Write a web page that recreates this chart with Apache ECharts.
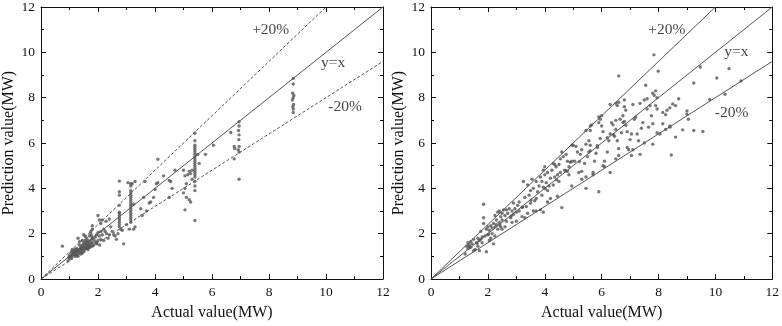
<!DOCTYPE html>
<html>
<head>
<meta charset="utf-8">
<script src="https://cdn.jsdelivr.net/npm/echarts@6/dist/echarts.min.js"></script>
<style>
  html, body { margin: 0; padding: 0; background: #fff; }
  #main { width: 782px; height: 326px; }
</style>
</head>
<body>
<div id="main"></div>
<script>
// axis ticks
var axisMin = 0, axisMax = 12, axisStep = 2;

// reference lines: y=x, +20%, -20%
var lineYX = [[0, 0], [12, 12]];
var linePlus20 = [[0, 0], [10, 12]];
var lineMinus20 = [[0, 0], [12, 9.6]];

// annotation labels [x, y, text]
var notesLeft = [[8.06, 11.0, '+20%'], [10.25, 9.52, 'y=x'], [10.67, 7.6, '-20%']];
var notesRight = [[8.29, 11.0, '+20%'], [10.74, 10.0, 'y=x'], [10.57, 7.34, '-20%']];

// left panel: actual vs prediction
var pointsLeft = [
  [8.85, 8.85], [8.85, 8.6], [8.83, 8.2], [8.87, 8.1], [8.85, 8.0], [8.82, 7.9], [8.86, 7.7], [8.84, 7.6], [8.85, 7.5], [8.85, 7.35],
  [6.95, 6.94], [6.95, 6.75], [6.93, 6.55], [6.95, 6.36], [6.94, 6.15], [6.95, 5.85], [6.92, 5.7], [6.95, 5.6], [6.95, 4.4],
  [6.78, 5.85], [6.8, 5.75], [6.66, 6.46], [6.78, 5.3], [6.05, 5.9], [5.77, 5.5],
  [5.4, 6.43], [5.4, 6.1], [5.4, 5.9], [5.4, 5.8], [5.4, 5.7], [5.4, 5.6], [5.4, 5.5], [5.4, 5.4], [5.4, 5.3], [5.4, 5.2],
  [5.4, 5.1], [5.4, 5.0], [5.4, 4.9], [5.4, 4.8], [5.4, 4.7], [5.4, 4.6], [5.4, 4.5], [5.4, 4.3], [5.4, 4.1], [5.4, 3.9], [5.4, 2.58],
  [5.0, 4.8], [5.05, 4.55], [5.1, 4.2], [5.05, 4.0], [5.0, 3.8], [5.15, 4.6], [5.2, 4.75], [5.25, 4.65], [5.3, 4.8], [5.3, 4.4],
  [5.2, 3.5], [5.25, 3.4], [5.05, 3.05], [5.1, 3.6], [5.55, 5.1], [5.5, 5.5],
  [4.1, 5.28], [4.0, 3.95], [4.05, 4.2], [4.1, 4.25], [3.95, 3.6], [4.3, 4.55], [4.5, 4.35], [4.55, 4.3], [4.6, 4.0], [4.5, 3.6], [4.7, 4.8],
  [3.65, 4.3], [3.6, 3.6], [3.7, 3.0], [3.5, 3.1], [3.55, 2.8], [3.8, 3.35], [3.85, 3.4], [3.3, 4.3], [3.25, 3.3],
  [3.15, 4.2], [3.15, 4.1], [3.15, 3.9], [3.15, 3.8], [3.15, 3.7], [3.15, 3.6], [3.15, 3.5], [3.15, 3.4], [3.15, 3.3], [3.15, 3.2],
  [3.15, 3.1], [3.15, 3.0], [3.15, 2.9], [3.15, 2.8], [3.15, 2.7], [3.15, 2.6], [3.15, 2.5], [3.05, 4.25], [3.2, 4.2],
  [3.0, 2.4], [3.1, 2.2], [3.25, 2.2], [3.3, 2.3],
  [2.75, 4.32], [2.75, 3.85], [2.75, 3.7], [2.75, 3.25], [2.75, 2.95], [2.75, 2.9], [2.75, 2.8], [2.75, 2.7], [2.75, 2.6], [2.75, 2.5],
  [2.75, 2.4], [2.75, 2.3], [2.8, 2.2], [2.85, 2.15], [2.9, 1.55],
  [2.0, 2.8], [2.05, 2.6], [2.1, 2.45], [2.2, 2.2], [2.3, 2.0], [2.25, 2.1], [2.4, 2.65], [2.45, 2.3], [2.5, 2.1], [2.55, 1.95],
  [2.6, 1.9], [2.35, 1.8], [2.4, 1.95], [2.65, 1.75], [2.7, 2.0], [2.2, 1.7], [2.15, 1.95], [2.1, 2.1], [2.0, 2.05], [2.05, 1.9],
  [2.0, 1.7], [1.95, 1.6], [2.05, 1.5], [2.1, 1.75],
  [1.8, 2.35], [1.8, 2.2], [1.75, 2.1], [1.75, 2.0], [1.78, 1.9], [1.8, 1.8], [1.75, 1.7], [1.8, 1.6], [1.75, 1.55], [1.8, 1.45], [1.85, 1.5],
  [1.5, 1.95], [1.55, 1.9], [1.6, 1.65], [1.6, 1.5], [1.65, 1.4], [1.55, 1.55], [1.5, 1.45], [1.45, 1.35], [1.7, 1.45], [1.65, 1.3],
  [1.5, 1.2], [1.4, 1.25], [1.35, 1.5], [1.3, 1.8], [1.35, 1.65], [1.3, 1.2], [1.25, 1.35], [1.2, 1.15], [1.15, 1.25], [1.1, 1.2],
  [1.1, 1.05], [1.05, 1.0], [1.0, 0.9], [0.95, 0.8], [1.2, 1.0], [1.25, 1.05], [1.3, 1.0], [1.4, 1.1], [1.45, 1.15], [1.2, 1.3],
  [1.15, 1.1], [1.05, 1.15], [0.75, 1.45], [1.0, 1.05], [1.1, 1.3], [1.4, 1.4], [1.5, 1.6], [1.6, 1.8], [1.65, 1.7], [1.7, 1.9],
  [1.9, 1.85], [1.9, 1.65], [1.95, 1.55], [1.85, 1.75], [1.55, 1.35], [1.35, 1.3], [1.25, 1.2], [1.45, 1.5], [1.7, 1.6], [1.6, 1.35],
  [1.12, 1.1], [1.18, 1.22], [1.28, 1.28], [1.32, 1.12], [1.38, 1.2], [1.42, 1.3], [1.48, 1.38], [1.52, 1.3], [1.58, 1.45], [1.62, 1.55],
  [1.68, 1.5], [1.72, 1.4], [1.22, 1.08], [1.08, 0.95], [0.98, 0.95], [1.45, 1.7], [1.55, 1.7], [2.28, 2.55], [2.15, 2.6], [1.95, 1.95]
];

// right panel: actual vs prediction
var pointsRight = [
  [7.84, 9.89], [6.6, 8.96], [7.99, 9.17], [9.47, 9.35], [10.48, 9.28], [10.05, 8.87], [9.24, 8.65], [10.9, 8.74], [10.34, 8.15], [9.8, 7.92],
  [9.0, 7.41], [9.0, 7.27], [9.05, 7.05], [9.24, 6.55], [9.56, 6.51], [8.45, 5.47], [8.6, 6.26], [8.85, 6.58], [8.71, 7.95], [8.5, 7.72],
  [8.6, 7.65], [8.4, 7.55], [8.25, 7.25], [8.3, 7.45], [8.15, 7.35], [8.4, 6.7], [8.25, 6.6], [8.05, 6.4], [7.9, 7.65], [7.95, 8.0],
  [7.8, 8.2], [7.85, 8.1], [7.7, 7.65], [7.6, 7.5], [7.75, 7.2], [7.8, 6.85], [7.65, 6.7], [7.8, 5.95], [7.55, 8.55], [7.5, 7.9],
  [7.35, 7.75], [7.45, 6.9], [7.4, 6.65], [7.35, 5.5], [7.25, 6.4], [7.3, 6.1], [7.1, 7.7], [7.15, 7.05], [7.05, 6.4], [7.0, 6.15],
  [7.05, 5.45], [6.95, 5.7], [6.9, 5.8], [6.8, 7.9], [6.8, 7.6], [6.85, 7.45], [6.75, 7.2], [6.8, 6.95], [6.9, 6.5], [6.7, 6.45],
  [6.75, 6.9], [6.65, 7.05], [6.6, 7.8], [6.55, 7.65], [6.5, 7.0], [6.5, 6.6], [6.45, 6.3], [6.55, 6.1], [6.6, 5.75], [6.6, 5.45],
  [6.3, 7.7], [6.35, 6.9], [6.4, 6.8], [6.3, 6.4], [6.25, 6.1], [6.2, 5.6], [6.3, 4.7], [6.1, 5.2], [6.05, 5.0], [6.0, 7.2],
  [5.95, 7.05], [6.0, 6.75], [5.9, 6.9], [6.05, 6.5], [5.95, 6.2], [5.85, 5.8], [5.9, 3.85], [5.8, 5.55], [5.75, 5.2], [5.7, 4.7],
  [5.65, 6.8], [5.6, 6.55], [5.55, 6.1], [5.6, 5.9], [5.55, 5.6], [5.5, 5.4], [5.45, 6.55], [5.45, 5.95], [5.4, 5.1], [5.45, 4.5],
  [5.45, 4.0], [5.3, 5.7], [5.25, 5.5], [5.3, 4.75], [5.2, 4.7], [5.15, 5.6], [5.1, 5.85], [5.05, 5.2], [4.95, 5.9], [4.95, 5.2],
  [4.9, 5.15], [4.85, 4.95], [4.8, 5.2], [4.85, 4.6], [4.8, 4.75], [4.75, 5.5], [4.7, 4.8], [4.65, 5.4], [4.6, 5.6], [4.6, 3.15],
  [4.55, 5.3], [4.55, 4.7], [4.5, 5.05], [4.5, 4.3], [4.45, 4.6], [4.4, 4.95], [4.35, 5.05], [4.35, 4.5], [4.3, 4.15], [4.25, 4.8],
  [4.2, 4.45], [4.2, 3.55], [4.15, 4.1], [4.1, 4.7], [4.1, 3.9], [4.05, 4.25], [4.0, 4.95], [4.0, 4.6], [3.95, 4.8], [3.9, 4.3],
  [3.95, 4.05], [3.9, 3.7], [3.95, 2.95], [3.85, 3.05], [3.85, 4.5], [3.8, 4.1], [3.75, 3.85], [3.7, 4.3], [3.7, 3.55], [3.65, 3.45],
  [3.6, 4.0], [3.6, 3.0], [3.55, 4.4], [3.5, 3.9], [3.5, 3.35], [3.45, 3.7], [3.4, 4.15], [3.4, 2.9], [3.35, 3.2], [3.3, 3.6],
  [3.25, 4.3], [3.2, 3.15], [3.2, 2.75], [3.1, 3.4], [3.1, 3.0], [3.05, 3.25], [3.0, 2.95], [2.95, 3.1], [2.9, 3.35], [2.9, 2.85],
  [2.85, 3.0], [2.8, 2.7], [2.75, 3.1], [2.7, 2.9], [2.65, 3.05], [2.65, 2.55], [2.6, 2.8], [2.55, 3.05], [2.5, 2.9], [2.5, 2.6],
  [2.45, 2.75], [2.45, 2.3], [2.4, 3.0], [2.4, 2.5], [2.35, 2.95], [2.35, 2.2], [2.3, 2.6], [2.3, 2.4], [2.25, 2.8], [2.25, 2.3],
  [2.2, 2.45], [2.2, 1.55], [2.15, 2.25], [2.15, 2.0], [2.1, 2.35], [2.05, 2.15], [2.05, 1.7], [2.0, 2.3], [2.0, 1.95], [1.95, 2.2],
  [1.95, 1.2], [1.9, 1.9], [1.85, 3.3], [1.85, 2.7], [1.85, 2.45], [1.8, 1.85], [1.8, 1.6], [1.75, 2.1], [1.75, 1.75], [1.7, 1.7],
  [1.65, 1.8], [1.65, 1.45], [1.6, 1.6], [1.55, 1.3], [1.5, 1.75], [1.45, 1.55], [1.4, 1.65], [1.4, 1.4], [1.35, 1.5], [1.3, 1.6],
  [1.3, 1.35], [1.25, 1.45], [1.2, 1.1], [1.35, 1.45], [1.5, 1.25], [1.7, 1.25], [2.1, 1.8], [2.25, 1.9], [2.5, 2.2], [2.6, 2.3],
  [2.85, 2.5], [3.0, 2.55], [3.3, 2.7], [3.7, 3.0], [4.1, 3.4], [4.45, 3.65], [4.95, 4.1], [5.3, 4.4], [5.7, 4.6], [6.1, 4.95],
  [6.5, 5.3], [7.1, 5.7], [7.5, 6.0], [7.95, 6.45], [8.4, 6.75], [8.15, 6.85], [7.95, 7.5], [7.6, 7.95], [7.9, 8.3], [7.2, 7.15],
  [6.85, 6.78], [6.42, 6.37], [6.2, 6.23], [5.85, 5.88], [5.6, 5.66], [5.22, 5.18], [4.75, 4.77], [4.42, 4.38], [4.02, 3.98], [3.52, 3.48],
  [3.22, 3.18], [2.82, 2.78], [2.42, 2.38], [2.02, 1.98], [1.62, 1.58], [5.0, 5.9], [5.6, 6.75], [5.9, 7.15], [6.5, 7.75], [4.3, 5.1]
];

var font = 'Liberation Serif, Times New Roman, serif';
var ink = '#111';
var lineGray = '#555';

function makeAxes(gi, isX) {
  var main = {
    type: 'value', gridIndex: gi, min: axisMin, max: axisMax, interval: axisStep,
    axisLine: { show: true, onZero: false, lineStyle: { color: ink, width: 1 } },
    axisTick: { show: true, inside: true, length: 5, lineStyle: { color: ink } },
    minorTick: { show: true, splitNumber: 2, length: 3, lineStyle: { color: ink } },
    axisLabel: { color: ink, fontFamily: font, fontSize: 13.5, margin: 6 },
    splitLine: { show: false },
    name: isX ? 'Actual value(MW)' : 'Prediction value(MW)',
    nameLocation: 'middle',
    nameGap: isX ? 26 : 24,
    nameTextStyle: { color: ink, fontFamily: font, fontSize: 16 }
  };
  var mirror = {
    type: 'value', gridIndex: gi, min: axisMin, max: axisMax, interval: axisStep,
    position: isX ? 'top' : 'right',
    axisLine: { show: true, onZero: false, lineStyle: { color: ink, width: 1 } },
    axisTick: { show: true, inside: true, length: 5, lineStyle: { color: ink } },
    minorTick: { show: true, splitNumber: 2, length: 3, lineStyle: { color: ink } },
    axisLabel: { show: false },
    splitLine: { show: false }
  };
  return [main, mirror];
}

function panelSeries(gi, points, notes, dashed) {
  var xi = gi * 2, yi = gi * 2;
  var guide = function (data, isDashed) {
    return {
      type: 'line', xAxisIndex: xi, yAxisIndex: yi, data: data, symbol: 'none', silent: true,
      lineStyle: { color: lineGray, width: 1, type: isDashed ? [3, 2] : 'solid' }
    };
  };
  return [
    guide(lineYX, false),
    guide(linePlus20, dashed),
    guide(lineMinus20, dashed),
    {
      type: 'scatter', xAxisIndex: xi, yAxisIndex: yi, data: points,
      symbolSize: 3.4, itemStyle: { color: '#555' }
    },
    {
      type: 'scatter', xAxisIndex: xi, yAxisIndex: yi, symbolSize: 0,
      data: notes.map(function (n) { return { value: [n[0], n[1]], name: n[2] }; }),
      label: {
        show: true, position: 'inside', formatter: '{b}',
        color: ink, fontFamily: font, fontSize: 15.5
      }
    }
  ];
}

var chart = echarts.init(document.getElementById('main'));
var xl = makeAxes(0, true), yl = makeAxes(0, false);
var xr = makeAxes(1, true), yr = makeAxes(1, false);

chart.setOption({
  animation: false,
  backgroundColor: '#fff',
  grid: [
    { left: 39, right: 399, top: 6, bottom: 45 },
    { left: 431, right: 8, top: 6, bottom: 45 }
  ],
  xAxis: [xl[0], xl[1], xr[0], xr[1]],
  yAxis: [yl[0], yl[1], yr[0], yr[1]],
  series: panelSeries(0, pointsLeft, notesLeft, true).concat(panelSeries(1, pointsRight, notesRight, false))
});
</script>
</body>
</html>
